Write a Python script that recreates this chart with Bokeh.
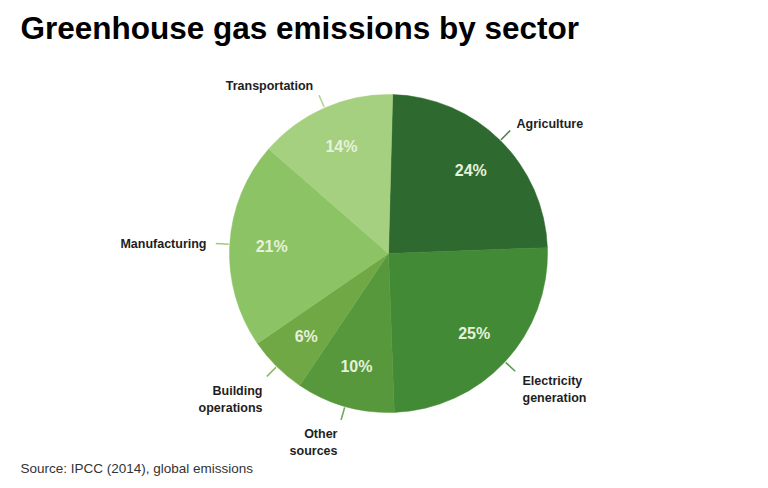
import math
from bokeh.plotting import figure
from bokeh.models import Range1d
from bokeh.core.properties import value
from bokeh.embed import file_html
from bokeh.resources import INLINE

# ---- data ----
sectors = ["Agriculture", "Electricity generation", "Other sources",
           "Building operations", "Manufacturing", "Transportation"]
shares = [24, 25, 10, 6, 21, 14]
label_texts = ["Agriculture", "Electricity\ngeneration", "Other\nsources",
               "Building\noperations", "Manufacturing", "Transportation"]
colors = ["#2e6a2f", "#428a35", "#56983b", "#6fa845", "#8cc364", "#a5d07f"]
title_text = "Greenhouse gas emissions by sector"
source_text = "Source: IPCC (2014), global emissions"

# ---- layout ----
W, H = 768, 488
CX, CY, R = 388, 253, 159          # screen coords
START = 88.5                        # degrees, first slice starts here, clockwise
PCT_R = 117
LEAD_R0, LEAD_R1 = 160, 173
# label anchors (screen coords) and alignment
label_pos = [(516, 123, "left"), (522, 389, "left"), (337, 442, "right"),
             (262, 399, "right"), (206, 243, "right"), (269, 85, "center")]

FONT = value("Liberation Sans")

def Y(sy):
    return H - sy

p = figure(width=W, height=H, x_range=Range1d(0, W), y_range=Range1d(0, H),
           output_backend="svg", toolbar_location=None,
           x_axis_location=None, y_axis_location=None, min_border=0)
p.grid.visible = False
p.outline_line_color = None
p.background_fill_color = "white"
p.border_fill_color = "white"

total = float(sum(shares))
cum = 0.0
starts, ends, mids = [], [], []
for s in shares:
    a_end = START - cum / total * 360.0
    a_start = START - (cum + s) / total * 360.0
    starts.append(math.radians(a_start))
    ends.append(math.radians(a_end))
    mids.append(math.radians((a_start + a_end) / 2))
    cum += s

p.wedge(x=[CX] * len(shares), y=[Y(CY)] * len(shares), radius=R,
        start_angle=starts, end_angle=ends, direction="anticlock",
        fill_color=colors, line_color=colors, line_width=0.5)

# percent labels
px = [CX + PCT_R * math.cos(m) for m in mids]
py = [Y(CY) + PCT_R * math.sin(m) for m in mids]
p.text(x=px, y=py, text=[f"{s}%" for s in shares], text_font=FONT,
       text_font_style="bold", text_font_size=value("16px"),
       text_color="#e6f1da", text_align="center", text_baseline="middle")

# leader lines
xs = [[CX + LEAD_R0 * math.cos(m), CX + LEAD_R1 * math.cos(m)] for m in mids]
ys = [[Y(CY) + LEAD_R0 * math.sin(m), Y(CY) + LEAD_R1 * math.sin(m)] for m in mids]
p.multi_line(xs=xs, ys=ys, line_color=colors, line_width=1.6, line_alpha=0.85)

# sector labels
for txt, (lx, ly, al) in zip(label_texts, label_pos):
    p.text(x=[lx], y=[Y(ly)], text=[txt], text_font=FONT, text_font_style="bold",
           text_font_size=value("12.5px"), text_color="#1e1e1e",
           text_align=al, text_baseline="middle", text_line_height=1.15)

# title and source
p.text(x=[20], y=[Y(27)], text=[title_text], text_font=FONT, text_font_style="bold",
       text_font_size=value("31.5px"), text_color="#000000",
       text_align="left", text_baseline="middle")
p.text(x=[20], y=[Y(468)], text=[source_text], text_font=FONT,
       text_font_size=value("13.5px"), text_color="#333333",
       text_align="left", text_baseline="middle")

open("out.html", "w").write(file_html(p, INLINE))
